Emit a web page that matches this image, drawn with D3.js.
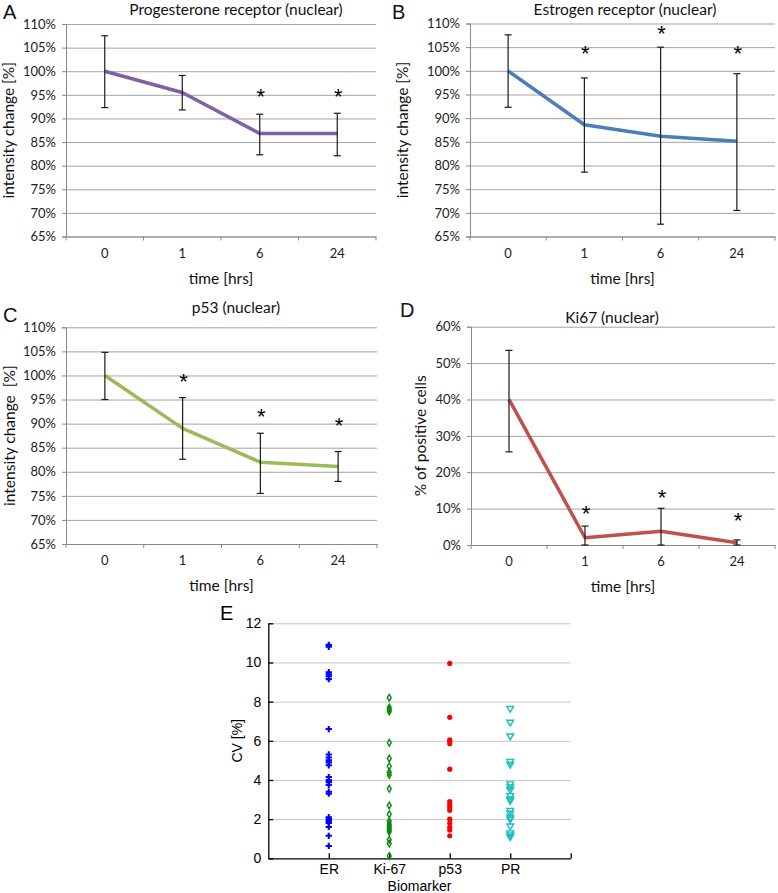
<!DOCTYPE html>
<html>
<head>
<meta charset="utf-8">
<script src="https://cdn.jsdelivr.net/npm/d3@7"></script>
<style>
  body { margin: 0; background: #fff; }
  svg { display: block; }
</style>
</head>
<body>
<svg id="chart"></svg>
<script>
// time course panels A-D
const TIMES = ["0", "1", "6", "24"];

const PR_MEAN = [100, 95.5, 86.8, 86.8];
const PR_HI   = [107.5, 99.1, 90.9, 91.1];
const PR_LO   = [92.3, 91.8, 82.3, 82.1];
const PR_STAR = [null, null, 95.7, 95.7];

const ER_MEAN = [100, 88.6, 86.2, 85.1];
const ER_HI   = [107.6, 98.5, 105.0, 99.4];
const ER_LO   = [92.3, 78.6, 67.6, 70.5];
const ER_STAR = [null, 104.8, 108.9, 104.8];

const P53_MEAN = [100, 89.0, 82.0, 81.1];
const P53_HI   = [104.8, 95.4, 88.0, 84.2];
const P53_LO   = [95.0, 82.6, 75.5, 78.0];
const P53_STAR = [null, 99.7, 92.5, 90.7];

const KI_MEAN = [40, 2.0, 3.8, 0.6];
const KI_HI   = [53.5, 5.2, 10.1, 1.4];
const KI_LO   = [25.6, 0, 0, 0];
const KI_STAR = [null, 10.0, 14.5, 8.0];

const INTENSITY_TICKS = [65, 70, 75, 80, 85, 90, 95, 100, 105, 110];
const KI_TICKS = [0, 10, 20, 30, 40, 50, 60];

// panel E, coefficient of variation per biomarker
const MARKERS = ["ER", "Ki-67", "p53", "PR"];
const CV_ER = [10.9, 10.8, 9.5, 9.4, 9.3, 9.15, 6.6, 5.3, 5.15, 5.0, 4.9, 4.75,
               4.15, 4.0, 3.9, 3.75, 3.4, 3.3, 2.1, 2.0, 1.9, 1.8, 1.6, 1.15, 0.63];
const CV_KI = [8.2, 7.7, 7.6, 7.5, 5.9, 5.1, 4.7, 4.4, 4.25, 3.55, 2.7, 2.25,
               1.9, 1.75, 1.65, 1.55, 1.45, 1.35, 0.95, 0.75, 0.12];
const CV_P53 = [9.95, 7.2, 6.05, 5.95, 5.85, 4.55, 2.9, 2.75, 2.6, 2.45, 2.0, 1.8, 1.6, 1.45, 1.15];
const CV_PR = [7.65, 6.95, 6.25, 4.95, 4.8, 3.8, 3.65, 3.5, 3.2, 3.05, 2.95,
               2.45, 2.3, 2.1, 2.0, 1.65, 1.3, 1.2, 1.1];
const CV_TICKS = [0, 2, 4, 6, 8, 10, 12];

const WIDTH = 778;
const HEIGHT = 893;
const GRID = "#a3a3a3";
const AXIS = "#8a8a8a";
const XLFONT = "Lato, 'Open Sans', sans-serif";
const MLFONT = "'Liberation Sans', Arial, sans-serif";

const svg = d3.select("#chart")
    .attr("width", WIDTH)
    .attr("height", HEIGHT);

function drawLinePanel(p) {
    const x = d3.scaleBand().domain(TIMES).range([p.left, p.right]);
    const y = d3.scaleLinear().domain(d3.extent(p.ticks)).range([p.bottom, p.top]);
    const mid = function(t) { return x(t) + x.bandwidth() / 2; };
    const g = svg.append("g");

    // gridlines
    g.append("g")
        .attr("transform", "translate(" + p.left + ",0)")
        .call(d3.axisLeft(y).tickValues(p.ticks).tickSize(-(p.right - p.left)).tickFormat(""))
        .call(s => s.select(".domain").remove())
        .selectAll("line").attr("stroke", GRID);

    // y axis
    const ya = g.append("g")
        .attr("transform", "translate(" + p.left + ",0)")
        .call(d3.axisLeft(y).tickValues(p.ticks).tickSize(4).tickPadding(6)
            .tickFormat(d => d + "%"));
    ya.selectAll("path,line").attr("stroke", AXIS);
    ya.selectAll("text").attr("font-family", XLFONT).attr("font-size", 13).attr("fill", "#222");

    // x axis, ticks sit between categories
    const xa = g.append("g")
        .attr("transform", "translate(0," + p.bottom + ")")
        .call(d3.axisBottom(x).tickSize(0).tickPadding(12).tickSizeOuter(0));
    xa.select(".domain").attr("stroke", AXIS);
    xa.selectAll("text").attr("font-family", XLFONT).attr("font-size", 13).attr("fill", "#222");
    xa.selectAll(".sep")
        .data(d3.range(TIMES.length + 1))
        .enter().append("line")
        .attr("class", "sep")
        .attr("x1", i => p.left + i * x.step())
        .attr("x2", i => p.left + i * x.step())
        .attr("y1", 0).attr("y2", 4)
        .attr("stroke", AXIS);

    const rows = TIMES.map((t, i) => ({ t: t, v: p.mean[i], hi: p.hi[i], lo: p.lo[i], star: p.star[i] }));

    // mean line
    g.append("path")
        .datum(rows)
        .attr("fill", "none")
        .attr("stroke", p.color)
        .attr("stroke-width", 3.5)
        .attr("stroke-linejoin", "round")
        .attr("d", d3.line().x(d => mid(d.t)).y(d => y(d.v)));

    // error bars
    const eb = g.selectAll(".err").data(rows).enter().append("g").attr("class", "err")
        .attr("stroke", "#1a1a1a").attr("stroke-width", 1.2);
    eb.append("line")
        .attr("x1", d => mid(d.t)).attr("x2", d => mid(d.t))
        .attr("y1", d => y(d.hi)).attr("y2", d => y(d.lo));
    eb.append("line")
        .attr("x1", d => mid(d.t) - 3.5).attr("x2", d => mid(d.t) + 3.5)
        .attr("y1", d => y(d.hi)).attr("y2", d => y(d.hi));
    eb.append("line")
        .attr("x1", d => mid(d.t) - 3.5).attr("x2", d => mid(d.t) + 3.5)
        .attr("y1", d => y(d.lo)).attr("y2", d => y(d.lo));

    // significance stars
    g.selectAll(".star").data(rows.filter(d => d.star != null)).enter().append("text")
        .attr("class", "star")
        .attr("x", d => mid(d.t) + 1)
        .attr("y", d => y(d.star) + 12.5)
        .attr("text-anchor", "middle")
        .attr("font-family", MLFONT)
        .attr("font-size", 22)
        .attr("fill", "#000")
        .text("*");

    // titles
    g.append("text")
        .attr("x", p.titleX).attr("y", p.titleY)
        .attr("text-anchor", "middle")
        .attr("font-family", XLFONT).attr("font-size", 15.5).attr("fill", "#111")
        .text(p.title);
    g.append("text")
        .attr("x", (p.left + p.right) / 2).attr("y", p.bottom + 47)
        .attr("text-anchor", "middle")
        .attr("font-family", XLFONT).attr("font-size", 15.5).attr("fill", "#111")
        .text("time [hrs]");
    g.append("text")
        .attr("transform", "translate(" + p.ylabX + "," + ((p.top + p.bottom) / 2) + ") rotate(-90)")
        .attr("text-anchor", "middle")
        .attr("dy", "0.35em")
        .attr("font-family", XLFONT).attr("font-size", 15.5).attr("fill", "#111")
        .style("white-space", "pre")
        .text(p.ylabel);
    g.append("text")
        .attr("x", p.letterX).attr("y", p.letterY)
        .attr("font-family", MLFONT).attr("font-size", 20).attr("fill", "#111")
        .text(p.letter);
}

drawLinePanel({ letter: "A", letterX: 3, letterY: 19, title: "Progesterone receptor (nuclear)",
    titleX: 236, titleY: 15, ylabel: "intensity change [%]", ylabX: 9,
    left: 66, right: 376, top: 24, bottom: 236.5, ticks: INTENSITY_TICKS,
    mean: PR_MEAN, hi: PR_HI, lo: PR_LO, star: PR_STAR, color: "#7f60a2" });

drawLinePanel({ letter: "B", letterX: 392, letterY: 19, title: "Estrogen receptor (nuclear)",
    titleX: 625, titleY: 15, ylabel: "intensity change [%]", ylabX: 403,
    left: 470, right: 775, top: 23.5, bottom: 236.5, ticks: INTENSITY_TICKS,
    mean: ER_MEAN, hi: ER_HI, lo: ER_LO, star: ER_STAR, color: "#4a7ebb" });

drawLinePanel({ letter: "C", letterX: 3, letterY: 322, title: "p53 (nuclear)",
    titleX: 236, titleY: 313, ylabel: "intensity change  [%]", ylabX: 10,
    left: 66, right: 377, top: 327.3, bottom: 544, ticks: INTENSITY_TICKS,
    mean: P53_MEAN, hi: P53_HI, lo: P53_LO, star: P53_STAR, color: "#9bbb59" });

drawLinePanel({ letter: "D", letterX: 400, letterY: 317, title: "Ki67 (nuclear)",
    titleX: 612, titleY: 323, ylabel: "% of positive cells", ylabX: 421,
    left: 471, right: 775, top: 326.7, bottom: 545, ticks: KI_TICKS,
    mean: KI_MEAN, hi: KI_HI, lo: KI_LO, star: KI_STAR, color: "#c0504d" });

// panel E
function drawScatter() {
    const left = 268.3, right = 570.7, top = 623.3, bottom = 858.3;
    const x = d3.scalePoint().domain(["", ...MARKERS, " "]).range([left, right]);
    const y = d3.scaleLinear().domain(d3.extent(CV_TICKS)).range([bottom, top]);
    const g = svg.append("g");

    g.append("g")
        .attr("transform", "translate(" + left + ",0)")
        .call(d3.axisLeft(y).tickValues(CV_TICKS.slice(1)).tickSize(-(right - left)).tickFormat(""))
        .call(s => s.select(".domain").remove())
        .selectAll("line").attr("stroke", "#c8c8c8");

    const ya = g.append("g")
        .attr("transform", "translate(" + left + ",0)")
        .call(d3.axisLeft(y).tickValues(CV_TICKS).tickSize(-5).tickSizeOuter(0).tickPadding(7));
    ya.selectAll("path,line").attr("stroke", "#000").attr("stroke-width", 1.3);
    ya.selectAll("text").attr("font-family", MLFONT).attr("font-size", 14).attr("fill", "#000");

    const xa = g.append("g")
        .attr("transform", "translate(0," + bottom + ")")
        .call(d3.axisBottom(x).tickSize(-5).tickSizeOuter(0).tickPadding(6));
    xa.selectAll("path,line").attr("stroke", "#000").attr("stroke-width", 1.3);
    xa.selectAll("text").attr("font-family", MLFONT).attr("font-size", 14).attr("fill", "#000");
    xa.selectAll(".tick").filter(d => d === "").remove();

    const series = [
        { key: "ER", vals: CV_ER, type: d3.symbolCross, size: 22, fill: "#0000ff", stroke: "none", rot: 0 },
        { key: "Ki-67", vals: CV_KI, type: d3.symbolDiamond, size: 13, fill: "none", stroke: "#0a8a0a", rot: 0 },
        { key: "p53", vals: CV_P53, type: d3.symbolCircle, size: 21, fill: "#ff0000", stroke: "none", rot: 0 },
        { key: "PR", vals: CV_PR, type: d3.symbolTriangle, size: 20, fill: "none", stroke: "#19bfbf", rot: 180 }
    ];
    series.forEach(s => {
        g.selectAll(null).data(s.vals).enter().append("path")
            .attr("d", d3.symbol().type(s.type).size(s.size))
            .attr("transform", v => "translate(" + x(s.key) + "," + y(v) + ") rotate(" + s.rot + ")")
            .attr("fill", s.fill)
            .attr("stroke", s.stroke)
            .attr("stroke-width", 1.4);
    });

    g.append("text")
        .attr("transform", "translate(" + (left - 31) + "," + ((top + bottom) / 2) + ") rotate(-90)")
        .attr("text-anchor", "middle").attr("dy", "0.35em")
        .attr("font-family", MLFONT).attr("font-size", 14).attr("fill", "#000")
        .text("CV [%]");
    g.append("text")
        .attr("x", (x("Ki-67") + x("p53")) / 2).attr("y", bottom + 33)
        .attr("text-anchor", "middle")
        .attr("font-family", MLFONT).attr("font-size", 14).attr("fill", "#000")
        .text("Biomarker");
    g.append("text")
        .attr("x", 220).attr("y", 620)
        .attr("font-family", MLFONT).attr("font-size", 20).attr("fill", "#000")
        .text("E");
}

drawScatter();
</script>
</body>
</html>
